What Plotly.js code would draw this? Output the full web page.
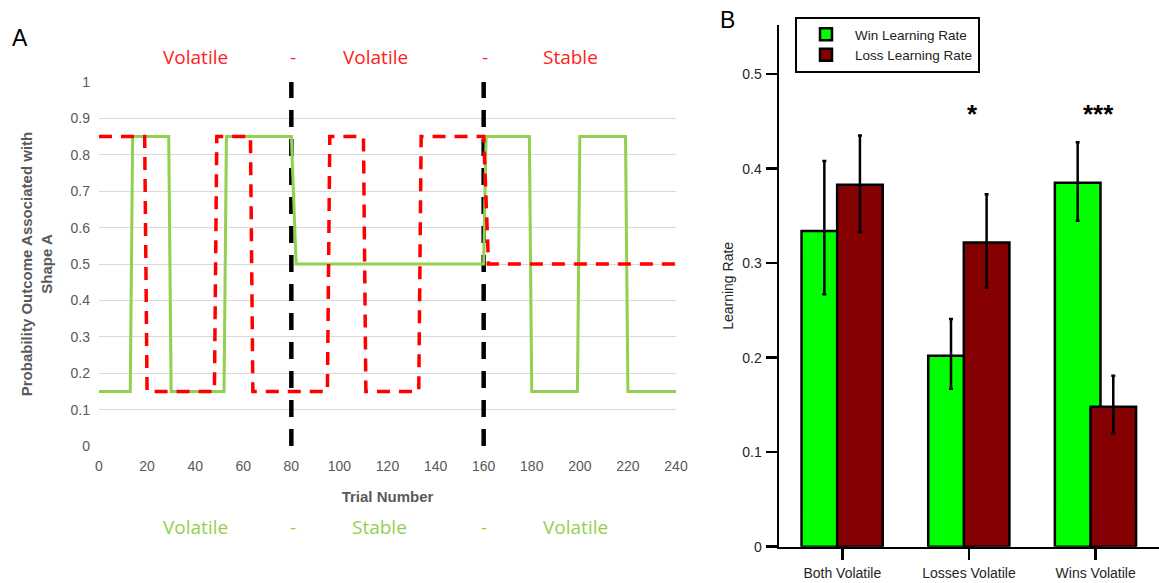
<!DOCTYPE html>
<html>
<head>
<meta charset="utf-8">
<script src="https://cdn.plot.ly/plotly-3.0.1.min.js"></script>
<style>html,body{margin:0;padding:0;background:#fff;}#chart{width:1159px;height:583px;}</style>
</head>
<body>
<div id="chart"></div>
<script>
// ---------- Panel A data ----------
const winTrials  = [0, 13, 14, 29, 30, 52, 53, 80, 82, 160, 161, 179, 180, 199, 200, 219, 220, 240];
const winProb    = [0.15, 0.15, 0.85, 0.85, 0.15, 0.15, 0.85, 0.85, 0.5, 0.5, 0.85, 0.85, 0.15, 0.15, 0.85, 0.85, 0.15, 0.15];
const lossTrials = [0, 19, 20, 48, 49, 63, 64, 95, 96, 110, 111, 133, 134, 160, 162, 240];
const lossProb   = [0.85, 0.85, 0.15, 0.15, 0.85, 0.85, 0.15, 0.15, 0.85, 0.85, 0.15, 0.15, 0.85, 0.85, 0.5, 0.5];
const blockBounds = [80, 160];
const lossPhaseLabels = ["Volatile", "-", "Volatile", "-", "Stable"];
const lossPhaseX      = [40, 80.5, 115, 160.5, 196];
const winPhaseLabels  = ["Volatile", "-", "Stable", "-", "Volatile"];
const winPhaseX       = [40, 80.5, 116.5, 160, 198];

// ---------- Panel B data ----------
const conditions = ["Both Volatile", "Losses Volatile", "Wins Volatile"];
const winRate    = [0.334, 0.202, 0.385];
const winErrUp   = [0.074, 0.039, 0.043];
const winErrDn   = [0.067, 0.035, 0.040];
const lossRate   = [0.383, 0.322, 0.148];
const lossErrUp  = [0.052, 0.051, 0.033];
const lossErrDn  = [0.050, 0.048, 0.028];
const sigLabels  = ["*", "***"];
const sigX       = [1.03, 2.02];
const sigY       = [0.458, 0.458];

const W = 1159, H = 583;
const px = v => v / W;
const py = v => 1 - v / H;

const grayFont = "Liberation Sans Narrow, Arial Narrow, Liberation Sans, Arial, sans-serif";
const calibri = "Open Sans, Lato, sans-serif";
const arial = "Liberation Sans, Arial, sans-serif";

const traces = [];
blockBounds.forEach(b => {
  traces.push({x: [b, b], y: [0, 1], xaxis: 'x', yaxis: 'y', mode: 'lines', showlegend: false,
    line: {color: '#000000', width: 4.5, dash: '17px,12px'}, hoverinfo: 'skip'});
});
traces.push({x: winTrials, y: winProb, xaxis: 'x', yaxis: 'y', mode: 'lines', showlegend: false,
  line: {color: '#92d050', width: 3}});
traces.push({x: lossTrials, y: lossProb, xaxis: 'x', yaxis: 'y', mode: 'lines', showlegend: false,
  line: {color: '#ff0000', width: 3.5, dash: '13px,9px'}});

traces.push({type: 'bar', name: 'Win Learning Rate', x: conditions, y: winRate, xaxis: 'x2', yaxis: 'y2',
  width: 0.36, offset: -0.322,
  marker: {color: '#00ff00', line: {color: '#000000', width: 2.5}},
  error_y: {type: 'data', symmetric: false, array: winErrUp, arrayminus: winErrDn, color: '#000000', thickness: 2.5, width: 2}});
traces.push({type: 'bar', name: 'Loss Learning Rate', x: conditions, y: lossRate, xaxis: 'x2', yaxis: 'y2',
  width: 0.36, offset: -0.041,
  marker: {color: '#850000', line: {color: '#000000', width: 2.5}},
  error_y: {type: 'data', symmetric: false, array: lossErrUp, arrayminus: lossErrDn, color: '#000000', thickness: 2.5, width: 2}});

const annotations = [];
lossPhaseLabels.forEach((t, i) => annotations.push({text: t, x: lossPhaseX[i], xref: 'x', y: py(57), yref: 'paper',
  showarrow: false, xanchor: 'center', yanchor: 'middle', font: {family: calibri, size: 19, color: '#ff2020'}}));
winPhaseLabels.forEach((t, i) => annotations.push({text: t, x: winPhaseX[i], xref: 'x', y: py(527), yref: 'paper',
  showarrow: false, xanchor: 'center', yanchor: 'middle', font: {family: calibri, size: 19, color: '#92d050'}}));
sigLabels.forEach((t, i) => annotations.push({text: t, x: sigX[i], xref: 'x2', y: sigY[i], yref: 'y2',
  showarrow: false, xanchor: 'center', yanchor: 'middle', font: {family: arial, size: 26, color: '#000000', weight: 'bold'}}));
annotations.push({text: 'A', x: px(20), y: py(38), xref: 'paper', yref: 'paper', showarrow: false,
  xanchor: 'center', yanchor: 'middle', font: {family: arial, size: 23, color: '#000'}});
annotations.push({text: 'B', x: px(727), y: py(20), xref: 'paper', yref: 'paper', showarrow: false,
  xanchor: 'center', yanchor: 'middle', font: {family: arial, size: 23, color: '#000'}});

const layout = {
  width: W, height: H,
  margin: {l: 0, r: 0, t: 0, b: 0},
  paper_bgcolor: '#ffffff', plot_bgcolor: 'rgba(0,0,0,0)',
  barmode: 'overlay',
  showlegend: true,
  legend: {x: px(795), y: py(17), xanchor: 'left', yanchor: 'top', bgcolor: '#ffffff',
    bordercolor: '#000000', borderwidth: 2, font: {family: arial, size: 13.5, color: '#222'},
    tracegroupgap: 0, itemwidth: 48},
  xaxis: {domain: [px(99), px(676)], range: [0, 240], dtick: 20, tick0: 0, showgrid: false, zeroline: false,
    showline: false, ticks: '', ticklabelstandoff: 10, tickfont: {family: grayFont, size: 14, color: '#595959'},
    title: {text: 'Trial Number', font: {family: grayFont, size: 15, color: '#595959', weight: 'bold'}, standoff: 18},
    anchor: 'y'},
  yaxis: {domain: [py(446), py(82)], range: [0, 1], dtick: 0.1, tick0: 0, showgrid: true, gridcolor: '#d9d9d9',
    gridwidth: 1, zeroline: false, showline: false, ticks: '', ticklabelstandoff: 8,
    tickfont: {family: grayFont, size: 14, color: '#595959'},
    title: {text: 'Probability Outcome Associated with<br>Shape A', font: {family: grayFont, size: 15, color: '#595959', weight: 'bold'}, standoff: 14},
    anchor: 'x'},
  xaxis2: {domain: [px(779), 1], range: [-0.5, 2.5], type: 'category', showgrid: false, zeroline: false,
    showline: true, linecolor: '#000', linewidth: 2.5, ticks: 'outside', ticklen: 11, tickwidth: 2.5, tickcolor: '#000',
    ticklabelstandoff: 1, tickfont: {family: arial, size: 14, color: '#262626'}, anchor: 'y2'},
  yaxis2: {domain: [py(546.7), py(25)], range: [0, 0.552], dtick: 0.1, tick0: 0, showgrid: false, zeroline: false,
    showline: true, linecolor: '#000', linewidth: 2.5, ticks: 'outside', ticklen: 11, tickwidth: 2.5, tickcolor: '#000',
    ticklabelstandoff: 1, tickfont: {family: arial, size: 14, color: '#262626'},
    title: {text: 'Learning Rate', font: {family: arial, size: 14, color: '#262626'}, standoff: 6},
    anchor: 'x2'},
  annotations: annotations
};

Plotly.newPlot('chart', traces, layout, {staticPlot: true, displayModeBar: false});
</script>
</body>
</html>
